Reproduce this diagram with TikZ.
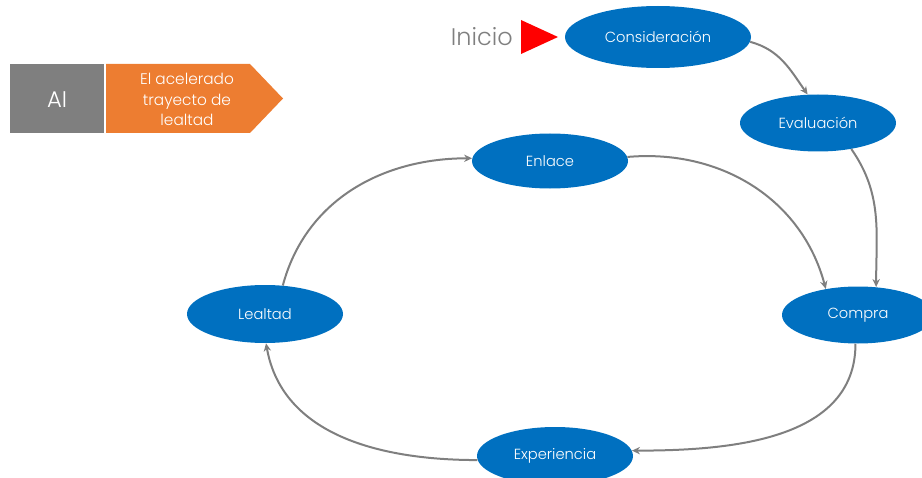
\documentclass[tikz,border=0pt]{standalone}
\usepackage{fontspec}
\setmainfont{Poppins Light}
\usetikzlibrary{shapes.geometric,arrows.meta}
\newdimen\pxu \pxu=0.75pt
\definecolor{nodeblue}{HTML}{0070C0}
\definecolor{linegray}{HTML}{7F7F7F}
\definecolor{boxgray}{HTML}{7F7F7F}
\definecolor{boxorange}{HTML}{ED7D31}
\begin{document}
\begin{tikzpicture}[x=0.75pt,y=-0.75pt,
  stage/.style={ellipse,fill=nodeblue,draw=none,text=white,inner sep=0pt,
    minimum width=156\pxu,minimum height=57\pxu,font=\fontsize{11}{12}\selectfont},
  conn/.style={draw=linegray,line width=1.5pt,-{Stealth[length=6pt,width=5.5pt]}}]
\useasboundingbox (0,0) rectangle (922,478);
\begin{scope}
\clip (0,0) rectangle (922,478);
% left header
\fill[boxgray] (10,64) rectangle (104,133);
\node[text=white,font=\fontsize{17}{20}\selectfont] (ai) at (57,100) {AI};
\fill[boxorange] (106,64) -- (250,64) -- (283,98.5) -- (250,133) -- (106,133) -- cycle;
\node[text=white,align=center,font=\fontsize{11.5}{15.5}\selectfont] (title) at (187,99.5) {El acelerado\\trayecto de\\lealtad};
% start marker
\node[text=boxgray,font=\fontsize{18}{22}\selectfont,anchor=east,inner sep=0pt] (inicio) at (513,37) {Inicio};
\fill[red] (521,20) -- (558,37) -- (521,54) -- cycle;
% stages
\node[stage,minimum width=186\pxu,minimum height=62\pxu] (cons) at (658,37) {Consideración};
\node[stage] (eval) at (818,123) {Evaluación};
\node[stage,minimum width=152\pxu] (compra) at (858,315) {Compra};
\node[stage,minimum height=55\pxu] (enlace) at (550,161) {Enlace};
\node[stage,minimum height=58\pxu] (lealtad) at (265,314) {Lealtad};
\node[stage,minimum height=58\pxu] (exp) at (555,456) {Experiencia};
% connectors
\draw[conn] (cons.-3) to[out=-15,in=125] (eval.110);
\draw[conn] (eval.-38) to[out=-55,in=90] (compra.57);
\draw[conn] (enlace.3) to[out=5,in=105] (compra.141);
\draw[conn] (compra.-95) to[out=-90,in=0] (exp.4);
\draw[conn] (exp.183) to[out=180,in=-80] (lealtad.-88);
\draw[conn] (lealtad.58) to[out=75,in=180] (enlace.178);
\end{scope}
\end{tikzpicture}
\end{document}
